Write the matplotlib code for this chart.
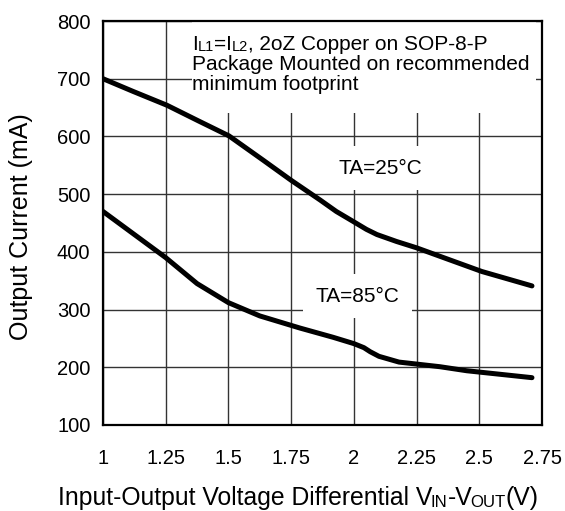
import matplotlib.pyplot as plt
from matplotlib.patches import Rectangle

plt.rcParams['font.family'] = ['Liberation Sans', 'DejaVu Sans']

# 25 °C curve
x25 = [1.0, 1.12, 1.255, 1.38, 1.502, 1.638, 1.75, 1.865, 1.93, 2.0,
       2.05, 2.092, 2.17, 2.25, 2.383, 2.51, 2.71]
y25 = [700, 678, 654, 627, 601, 559, 524, 490, 470, 452,
       439, 430, 418, 407, 386, 366, 341]

# 85 °C curve
x85 = [1.0, 1.125, 1.25, 1.375, 1.5, 1.625, 1.785, 1.917, 2.0, 2.04,
       2.065, 2.1, 2.18, 2.343, 2.45, 2.58, 2.71]
y85 = [470, 430, 390, 345, 312, 289, 268, 252, 241, 234,
       227, 219, 209, 201, 194, 188, 182]

xticks = [1, 1.25, 1.5, 1.75, 2, 2.25, 2.5, 2.75]
yticks = [100, 200, 300, 400, 500, 600, 700, 800]

fig = plt.figure(figsize=(5.65, 5.11), dpi=100)
ax = fig.add_axes([0.1823, 0.1683, 0.777, 0.7906])

ax.set_xlim(1, 2.75)
ax.set_ylim(100, 800)
ax.set_xticks(xticks)
ax.set_xticklabels(['1', '1.25', '1.5', '1.75', '2', '2.25', '2.5', '2.75'])
ax.set_yticks(yticks)
ax.tick_params(length=0, labelsize=14.5)
ax.tick_params(axis='x', pad=17)
ax.tick_params(axis='y', pad=9)
ax.grid(True, color='#333333', linewidth=1.0)
ax.set_axisbelow(True)
for s in ax.spines.values():
    s.set_linewidth(1.6)

ax.plot(x25, y25, color='black', lw=3.6, solid_capstyle='round', zorder=4)
ax.plot(x85, y85, color='black', lw=3.6, solid_capstyle='round', zorder=4)

# white background behind the note
ax.add_patch(Rectangle((1.355, 641), 1.37, 159, facecolor='white',
                       edgecolor='none', zorder=2))

fs = 15
t = ax.text(1.355, 750, 'I', fontsize=fs, va='baseline', zorder=5)
t = ax.annotate('L1', xy=(1, 0), xycoords=t, fontsize=fs * 0.7,
                va='bottom', zorder=5)
t = ax.annotate('=I', xy=(1, 0), xycoords=t, fontsize=fs, va='bottom', zorder=5)
t = ax.annotate('L2', xy=(1, 0), xycoords=t, fontsize=fs * 0.7,
                va='bottom', zorder=5)
t = ax.annotate(', 2oZ Copper on SOP-8-P', xy=(1, 0), xycoords=t,
                fontsize=fs, va='bottom', zorder=5)
ax.text(1.355, 715, 'Package Mounted on recommended', fontsize=fs,
        va='baseline', zorder=5)
ax.text(1.355, 680, 'minimum footprint', fontsize=fs, va='baseline', zorder=5)

box = dict(facecolor='white', edgecolor='none', pad=9)
ax.text(2.104, 545, 'TA=25°C', fontsize=fs, ha='center', va='center',
        bbox=box, zorder=3)
ax.text(2.016, 323, 'TA=85°C', fontsize=fs, ha='center', va='center',
        bbox=box, zorder=3)

ax.set_ylabel('Output Current (mA)', fontsize=18)
ax.yaxis.set_label_coords(-0.16, 0.49)

# x label with small-letter subscripts
lfs = 17.8
prev = fig.text(58 / 565, 0.012, 'Input-Output Voltage Differential V',
                fontsize=lfs, va='baseline')
for txt, k, dx in [('IN', 0.68, -1), ('-V', 1.0, 0), ('OUT', 0.68, -1.5),
                   ('(V)', 1.0, 0)]:
    prev = ax.annotate(txt, xy=(1, 0), xycoords=prev, xytext=(dx, 0),
                       textcoords='offset points', fontsize=lfs * k,
                       va='bottom', annotation_clip=False)

fig.savefig('out.png', dpi=100)
